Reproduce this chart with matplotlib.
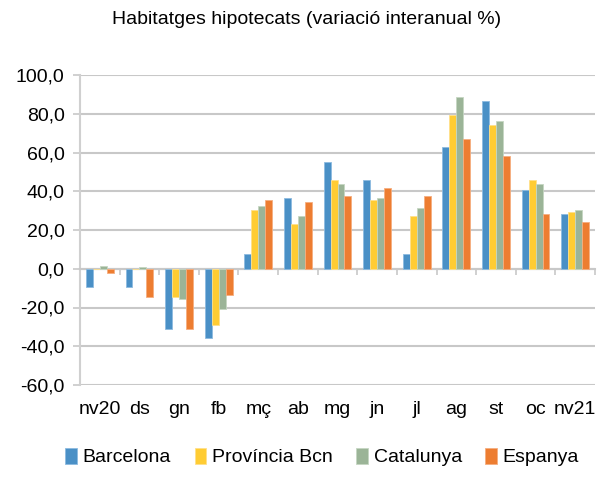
import matplotlib.pyplot as plt
import matplotlib.transforms as mtransforms
import numpy as np

plt.rcParams['font.family'] = ['Liberation Sans', 'DejaVu Sans']

mesos = ['nv20', 'ds', 'gn', 'fb', 'mç', 'ab', 'mg', 'jn', 'jl', 'ag', 'st', 'oc', 'nv21']
barcelona = [-9.5, -9.5, -31.0, -35.5, 7.8, 36.5, 55.0, 45.8, 7.8, 63.0, 86.5, 40.5, 28.3]
provincia = [0.0, 0.0, -14.6, -29.0, 30.3, 23.1, 45.8, 35.5, 27.3, 79.5, 74.2, 45.6, 29.3]
catalunya = [1.3, 1.0, -15.6, -20.7, 32.4, 27.3, 43.7, 36.5, 31.4, 88.6, 76.3, 43.6, 30.4]
espanya = [-2.3, -14.6, -31.0, -13.5, 35.5, 34.5, 37.5, 41.7, 37.5, 67.2, 58.0, 28.3, 24.2]

series = [('Barcelona', barcelona, '#4A90C6', '#8DBBE0'),
          ('Província Bcn', provincia, '#FFCC33', '#FFE08A'),
          ('Catalunya', catalunya, '#9BB497', '#C5D6C2'),
          ('Espanya', espanya, '#ED7D31', '#F5AE80')]

fig = plt.figure(figsize=(6.08, 4.96), dpi=100)
ax = fig.add_axes([80 / 608, 1 - 385 / 496, 515 / 608, 310 / 496])

x = np.arange(len(mesos))
w = 0.175
for i, (nom, vals, col, ed) in enumerate(series):
    ax.bar(x + (i - 1.5) * w, vals, w, color=col, edgecolor=ed, linewidth=0.6,
           label=nom, zorder=3)

ax.set_xlim(-0.5, len(mesos) - 0.5)
ax.set_ylim(-60, 100)
ax.set_yticks(np.arange(-60, 101, 20))
ax.set_yticklabels([f'{v:.1f}'.replace('.', ',') for v in np.arange(-60, 101, 20)],
                   fontsize=14)
ax.yaxis.grid(True, color='#C8C8C8', linewidth=1.5, zorder=0)
ax.tick_params(axis='y', length=5, color='#C8C8C8', width=1.2, pad=6)

for s in ['top', 'right']:
    ax.spines[s].set_visible(False)
ax.spines['left'].set_color('#D0D0D0')
ax.spines['left'].set_linewidth(1.5)
ax.spines['bottom'].set_position(('data', 0))
ax.spines['bottom'].set_color('#C8C8C8')
ax.spines['bottom'].set_linewidth(1.5)

ax.set_xticks(np.arange(len(mesos) + 1) - 0.5)
ax.set_xticklabels([])
ax.tick_params(axis='x', length=4, color='#C8C8C8', width=1.2)

trans = mtransforms.blended_transform_factory(ax.transData, ax.transAxes)
for xi, m in zip(x, mesos):
    ax.text(xi, -0.08, m, transform=trans, ha='center', va='center', fontsize=14)

fig.text(307 / 608, 1 - 20 / 496, 'Habitatges hipotecats (variació interanual %)',
         ha='center', va='center', fontsize=14)

fig.legend(loc='center', bbox_to_anchor=(0.53, 1 - 457 / 496), ncol=4, frameon=False,
           fontsize=14, handlelength=0.6, handleheight=0.9, handletextpad=0.3,
           columnspacing=1.2)

fig.savefig('out.png', dpi=100)
